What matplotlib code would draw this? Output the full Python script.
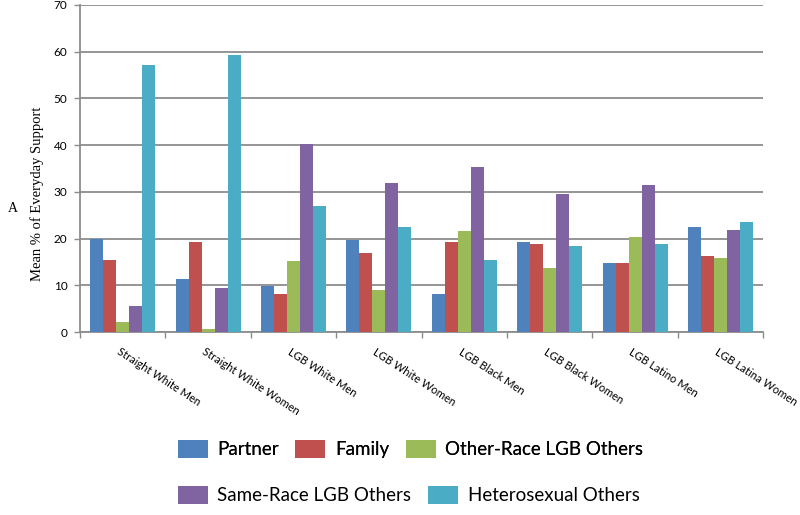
import matplotlib
matplotlib.use("Agg")
import matplotlib.pyplot as plt
import numpy as np

GROUPS = ["Straight White Men", "Straight White Women", "LGB White Men", "LGB White Women",
          "LGB Black Men", "LGB Black Women", "LGB Latino Men", "LGB Latina Women"]
SERIES = ["Partner", "Family", "Other-Race LGB Others", "Same-Race LGB Others", "Heterosexual Others"]
partner = [20.0, 11.4, 9.8, 19.6, 8.2, 19.3, 14.7, 22.4]
family = [15.5, 19.3, 8.2, 16.9, 19.3, 18.9, 14.7, 16.2]
other_race = [2.1, 0.6, 15.1, 8.9, 21.6, 13.6, 20.4, 15.9]
same_race = [5.6, 9.4, 40.3, 31.9, 35.3, 29.6, 31.5, 21.9]
hetero = [57.1, 59.4, 26.9, 22.4, 15.5, 18.5, 18.9, 23.5]
COLORS = ["#4F81BD", "#C0504D", "#9BBB59", "#8064A2", "#4BACC6"]

GRID = "#8c8c8c"
SANS = ["Lato", "DejaVu Sans"]
SERIF = ["Liberation Serif", "DejaVu Serif"]

fig = plt.figure(figsize=(8, 5.15), dpi=100)
ax = fig.add_axes([0.1, 0.3553, 0.854, 0.635])

values = [partner, family, other_race, same_race, hetero]
x = np.arange(len(GROUPS))
bw = 0.152
handles = []
for i, (vals, col) in enumerate(zip(values, COLORS)):
    h = ax.bar(x + (i - 2) * bw, vals, width=bw, color=col, zorder=3, label=SERIES[i])
    handles.append(h)

ax.set_xlim(-0.5, len(GROUPS) - 0.5)
ax.set_ylim(0, 70)
ax.set_yticks(range(0, 71, 10))
ax.yaxis.grid(True, color=GRID, linewidth=1.3, zorder=0)
ax.set_axisbelow(True)
for s in ["top", "right"]:
    ax.spines[s].set_visible(False)
for s in ["left", "bottom"]:
    ax.spines[s].set_color(GRID)
    ax.spines[s].set_linewidth(1.3)

ax.set_xticks(np.arange(len(GROUPS) + 1) - 0.5)
ax.set_xticklabels([])
ax.tick_params(axis="x", length=4, color=GRID, width=1)
ax.tick_params(axis="y", length=4, color=GRID, width=1, labelsize=8.5, pad=5)
for lab in ax.get_yticklabels():
    lab.set_family(SANS)

for i, g in enumerate(GROUPS):
    ax.text(i - 0.02, -3.0, g, rotation=-33, rotation_mode="anchor", ha="left", va="top",
            fontsize=8.0, family=SANS)

fig.text(0.046, 0.623, "Mean % of Everyday Support", family=SERIF, fontsize=10.5,
         rotation=90, ha="center", va="center")
fig.text(0.016, 0.596, "A", family=SERIF, fontsize=10, ha="center", va="center")

leg_kw = dict(frameon=False, prop={"family": SANS, "size": 13.5}, handlelength=1.6,
              handleheight=1.1, handletextpad=0.5, columnspacing=0.9, loc="center")
leg1 = fig.legend(handles[:3], SERIES[:3], ncol=3, bbox_to_anchor=(0.513, 0.128), **leg_kw)
fig.add_artist(leg1)
fig.legend(handles[3:], SERIES[3:], ncol=2, bbox_to_anchor=(0.511, 0.039), **leg_kw)

fig.savefig("out.png", dpi=100)
